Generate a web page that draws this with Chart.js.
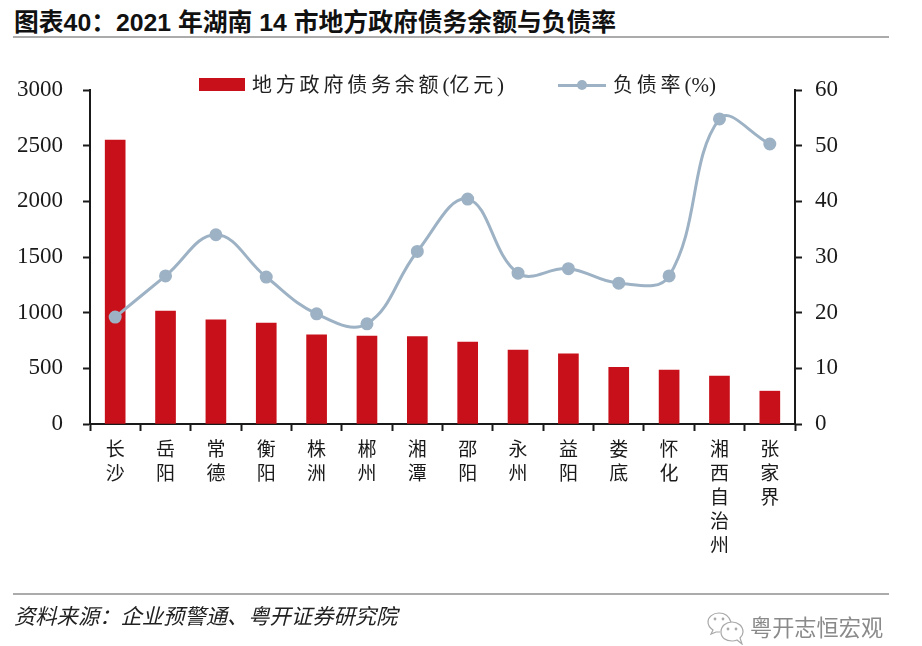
<!DOCTYPE html>
<html>
<head>
<meta charset="utf-8">
<script src="https://cdn.jsdelivr.net/npm/chart.js@4"></script>
<style>
body { margin: 0; background: #fff; width: 922px; height: 646px; overflow: hidden; position: relative; font-family: "Liberation Sans", "Noto Sans CJK SC", sans-serif; }
canvas { position: absolute; left: 0; top: 0; }
.title { position: absolute; left: 14px; top: 8px; font-size: 24.8px; line-height: 30px; font-weight: bold; color: #111; white-space: nowrap; }
.rule { position: absolute; left: 13px; width: 876px; height: 2px; background: #ababab; }
.source { position: absolute; left: 14px; top: 602px; font-size: 21.3px; line-height: 30px; font-style: italic; color: #222; white-space: nowrap; }
.mark { position: absolute; left: 750px; top: 614px; font-size: 22.2px; line-height: 30px; color: #8a8a8a; white-space: nowrap; }
.wechat { position: absolute; left: 707px; top: 611px; }
.legend-item { position: absolute; top: 70px; height: 30px; font: 20px/30px "Liberation Serif", "Noto Sans CJK SC", serif; letter-spacing: 3.8px; color: #222; white-space: nowrap; }
.tight { letter-spacing: 0; font-size: 21px; }
.swatch { position: absolute; }
</style>
</head>
<body>
<div class="title">图表40：2021 年湖南 14 市地方政府债务余额与负债率</div>
<div class="rule" style="top:36px"></div>
<canvas id="chart" width="922" height="646"></canvas>
<div id="legend"></div>
<div class="rule" style="top:593px"></div>
<div class="source">资料来源：企业预警通、粤开证券研究院</div>
<svg class="wechat" width="38" height="34" viewBox="0 0 38 34" fill="none" stroke="#a8a8a8" stroke-width="1.2">
  <path d="M24 11 C22 5 17 2 12 2 C6 2 1 6 1 11 C1 14 3 17 6 19 L4 23 L9 21 C10 21 12 21 13 21"/>
  <path d="M36 21 C36 15 31 11 25 11 C19 11 14 15 14 21 C14 27 19 30 25 30 C27 30 28 30 30 29 L35 33 L33 27 C35 25 36 23 36 21 Z"/>
  <circle cx="8" cy="8" r="0.8"/><circle cx="16" cy="8" r="0.8"/><circle cx="21" cy="18" r="0.8"/><circle cx="29" cy="18" r="0.8"/>
</svg>
<div class="mark">粤开志恒宏观</div>

<script>
// ---------- data ----------
const cities = ['长沙', '岳阳', '常德', '衡阳', '株洲', '郴州', '湘潭', '邵阳', '永州', '益阳', '娄底', '怀化', '湘西自治州', '张家界'];
const debtValues = [2550, 1015, 935, 907, 800, 790, 785, 735, 665, 630, 510, 485, 430, 295];
const debtRatio = [19.2, 26.6, 34, 26.4, 19.8, 18, 31, 40.4, 27.1, 27.9, 25.3, 26.6, 54.8, 50.3];
const leftTicks = [0, 500, 1000, 1500, 2000, 2500, 3000];
const rightTicks = [0, 10, 20, 30, 40, 50, 60];
const debtName = '地方政府债务余额(亿元)';
const ratioName = '负债率(%)';

const red = '#c8101a';
const steel = '#9db2c4';
const ink = '#1a1a1a';
const serif = '"Liberation Serif", "Noto Sans CJK SC", serif';
const plainTick = value => String(value);

// ---------- chart ----------
new Chart(document.getElementById('chart'), {
    data: {
        labels: cities,
        datasets: [
            {
                type: 'line',
                label: ratioName,
                data: debtRatio,
                yAxisID: 'yRight',
                borderColor: steel,
                backgroundColor: steel,
                borderWidth: 3,
                pointRadius: 5,
                tension: 0.4,
                order: 1
            },
            {
                type: 'bar',
                label: debtName,
                data: debtValues,
                yAxisID: 'yLeft',
                backgroundColor: red,
                barThickness: 20,
                order: 2
            }
        ]
    },
    options: {
        responsive: false,
        animation: false,
        layout: { padding: { top: 90 } },
        plugins: { legend: { display: false }, tooltip: { enabled: false } },
        scales: {
            x: {
                grid: { offset: true, drawOnChartArea: false, tickLength: 7, tickColor: ink, tickWidth: 2 },
                border: { color: ink, width: 2 },
                afterFit: scale => { scale.height = 222; },
                ticks: {
                    autoSkip: false,
                    maxRotation: 0,
                    padding: 8,
                    color: ink,
                    font: { family: serif, size: 19, lineHeight: 1.26 },
                    callback: function (value) { return this.getLabelForValue(value).split(''); }
                }
            },
            yLeft: {
                position: 'left',
                min: 0,
                max: 3000,
                afterBuildTicks: scale => { scale.ticks = leftTicks.map(v => ({ value: v })); },
                afterFit: scale => { scale.width = 90; },
                grid: { drawOnChartArea: false, tickLength: 7, tickColor: ink, tickWidth: 2 },
                border: { color: ink, width: 2 },
                ticks: { padding: 20, color: ink, font: { family: serif, size: 23 }, callback: plainTick }
            },
            yRight: {
                position: 'right',
                min: 0,
                max: 60,
                afterBuildTicks: scale => { scale.ticks = rightTicks.map(v => ({ value: v })); },
                afterFit: scale => { scale.width = 127; },
                grid: { drawOnChartArea: false, tickLength: 7, tickColor: ink, tickWidth: 2 },
                border: { color: ink, width: 2 },
                ticks: { padding: 13, color: ink, font: { family: serif, size: 23 }, callback: plainTick }
            }
        }
    }
});

// ---------- legend (html, because of the wide letter spacing) ----------
const tightMarks = name => name.replace(/[()%]/g, '<span class="tight">$&</span>');
const legend = document.getElementById('legend');
legend.innerHTML =
    '<div class="swatch" style="left:199px;top:78px;width:46px;height:13px;background:' + red + '"></div>' +
    '<div class="legend-item" style="left:252px">' + tightMarks(debtName) + '</div>' +
    '<div class="swatch" style="left:558px;top:83.5px;width:48px;height:3px;background:' + steel + '"></div>' +
    '<div class="swatch" style="left:577px;top:80px;width:10px;height:10px;border-radius:50%;background:' + steel + '"></div>' +
    '<div class="legend-item" style="left:613px">' + tightMarks(ratioName) + '</div>';
</script>
</body>
</html>
